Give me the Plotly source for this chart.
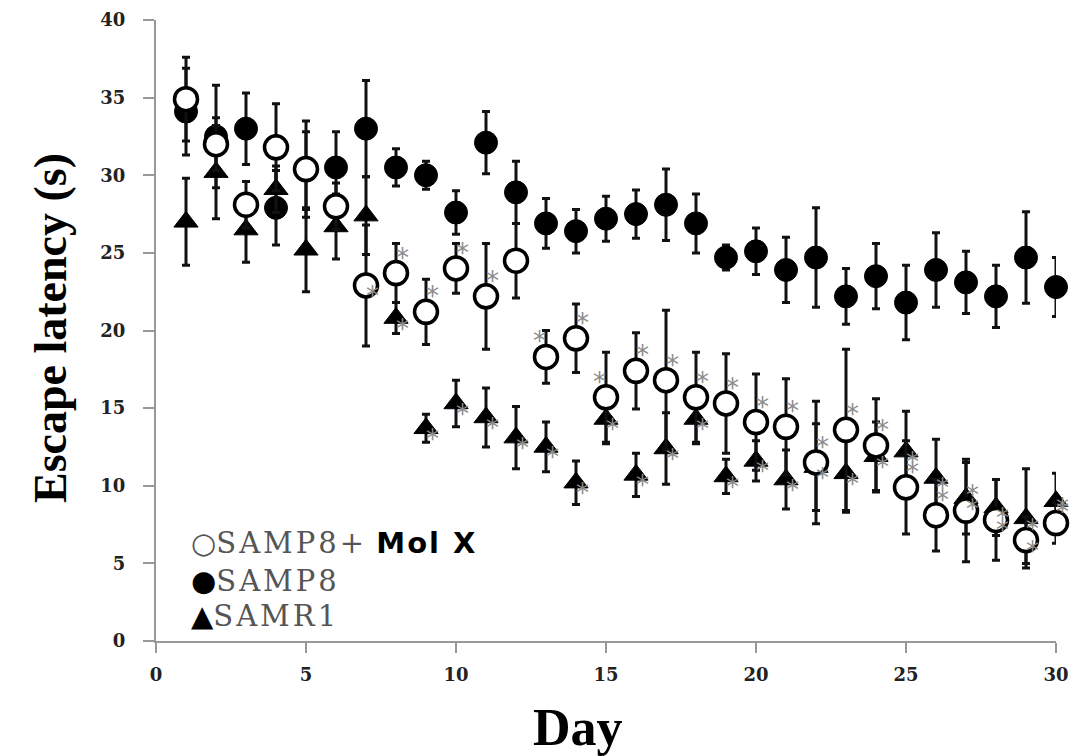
import plotly.graph_objects as go

days = list(range(1, 31))

samp8 = [34.1, 32.5, 33.0, 27.9, 30.3, 30.5, 33.0, 30.5, 30.0, 27.6,
         32.1, 28.9, 26.9, 26.4, 27.2, 27.5, 28.1, 26.9, 24.7, 25.1,
         23.9, 24.7, 22.2, 23.5, 21.8, 23.9, 23.1, 22.2, 24.7, 22.8]
samp8_err = [2.8, 3.3, 2.3, 2.4, 2.5, 2.3, 3.1, 1.2, 0.9, 1.4,
             2.0, 2.0, 1.6, 1.4, 1.45, 1.55, 2.3, 1.9, 0.8, 1.5,
             2.1, 3.2, 1.8, 2.1, 2.4, 2.4, 2.0, 2.0, 2.95, 1.9]

samp8_molx = [34.9, 32.0, 28.1, 31.8, 30.4, 28.0, 22.9, 23.7, 21.2, 24.0,
              22.2, 24.5, 18.3, 19.5, 15.7, 17.4, 16.8, 15.7, 15.3, 14.1,
              13.8, 11.5, 13.6, 12.6, 9.9, 8.1, 8.4, 7.8, 6.5, 7.6]
samp8_molx_err = [2.7, 1.7, 1.5, 2.8, 3.1, 1.5, 3.9, 1.9, 2.1, 1.6,
                  3.4, 2.4, 1.7, 2.2, 2.9, 2.45, 4.5, 2.9, 3.2, 3.1,
                  3.1, 3.95, 5.2, 3.0, 3.0, 2.3, 3.3, 2.6, 1.5, 1.3]

samr1 = [27.0, 30.2, 26.5, 29.1, 25.2, 26.7, 27.4, 20.8, 13.7, 15.3,
         14.4, 13.1, 12.5, 10.2, 14.3, 10.7, 12.4, 14.3, 10.6, 11.6,
         10.4, 11.2, 10.8, 11.9, 12.2, 10.5, 9.2, 8.6, 7.9, 9.0]
samr1_err = [2.8, 3.0, 2.1, 1.5, 2.7, 2.1, 2.5, 1.0, 0.9, 1.5,
             1.9, 2.0, 1.6, 1.4, 1.6, 1.4, 2.3, 1.6, 1.1, 1.3,
             1.9, 2.8, 2.5, 2.2, 2.6, 2.5, 2.3, 1.8, 3.2, 1.8]

# significance stars
molx_star = [""] * 6 + ["*"] * 5 + [""] + ["*"] * 18
molx_star_pos = (["top right"] * 6 + ["bottom right"] + ["top right"] * 5
                 + ["top left", "top right", "top left"] + ["top right"] * 12
                 + ["bottom right", "bottom right", "top right"])
samr1_star = [""] * 7 + ["*"] * 23
samr1_star_pos = ["bottom right"] * 30

x_ticks = [0, 5, 10, 15, 20, 25, 30]
y_ticks = [0, 5, 10, 15, 20, 25, 30, 35, 40]

STAR = "#8c8c8c"
fig = go.Figure()

fig.add_trace(go.Scatter(
    x=days, y=samp8, mode="markers", name="SAMP8",
    marker=dict(symbol="circle", size=23, color="black",
                line=dict(color="black", width=1)),
    error_y=dict(type="data", array=samp8_err, color="#111", thickness=3, width=4),
    cliponaxis=False))

fig.add_trace(go.Scatter(
    x=days, y=samr1, mode="markers", name="SAMR1",
    marker=dict(symbol="triangle-up", size=21, color="black",
                line=dict(color="black", width=1)),
    error_y=dict(type="data", array=samr1_err, color="#111", thickness=3, width=4),
    cliponaxis=False))

fig.add_trace(go.Scatter(
    x=days, y=samp8_molx, mode="markers", name="SAMP8+ Mol X",
    marker=dict(symbol="circle", size=23, color="white",
                line=dict(color="black", width=3.5)),
    error_y=dict(type="data", array=samp8_molx_err, color="#111", thickness=3, width=4),
    cliponaxis=False))

fig.add_trace(go.Scatter(
    x=days, y=samp8_molx, mode="text", text=molx_star, textposition=molx_star_pos,
    textfont=dict(family="DejaVu Sans", size=26, color=STAR),
    showlegend=False, cliponaxis=False, hoverinfo="skip"))

fig.add_trace(go.Scatter(
    x=days, y=samr1, mode="text", text=samr1_star, textposition=samr1_star_pos,
    textfont=dict(family="DejaVu Sans", size=26, color=STAR),
    showlegend=False, cliponaxis=False, hoverinfo="skip"))

axis_font = dict(family="DejaVu Serif", size=18, color="#222")

fig.update_layout(
    width=1073, height=756,
    margin=dict(l=156, r=17, t=20, b=115, autoexpand=False),
    paper_bgcolor="white", plot_bgcolor="white",
    showlegend=False,
    xaxis=dict(range=[0, 30], tickvals=x_ticks, ticktext=[f"<b>{t}</b>" for t in x_ticks],
               showgrid=False, zeroline=False, showline=True, linecolor="#999",
               linewidth=2, ticks="outside", tickcolor="#999", ticklen=10, tickwidth=1.5,
               tickfont=axis_font, ticklabelstandoff=6, automargin=False),
    yaxis=dict(range=[0, 40], tickvals=y_ticks, ticktext=[f"<b>{t}</b>" for t in y_ticks],
               showgrid=False, zeroline=False, showline=True, linecolor="#999",
               linewidth=2, ticks="outside", tickcolor="#999", ticklen=11, tickwidth=1.5,
               tickfont=axis_font, ticklabelstandoff=14, automargin=False),
)


def px(xp):
    return (xp - 156) / 900


def py(yp):
    return (641 - yp) / 621


ann = []
ann.append(dict(xref="paper", yref="paper", x=px(578), y=py(727),
                text="<b>Day</b>", showarrow=False, xanchor="center", yanchor="middle",
                font=dict(family="Liberation Serif", size=52, color="black")))
ann.append(dict(xref="paper", yref="paper", x=px(50), y=py(328),
                text="<b>Escape latency (s)</b>", showarrow=False, textangle=-90,
                xanchor="center", yanchor="middle",
                font=dict(family="Liberation Serif", size=46, color="black")))

leg_font = dict(family="DejaVu Serif", size=29, color="#555")
ann.append(dict(xref="paper", yref="paper", x=px(189), y=py(543),
                text="○<span style=\"letter-spacing:3px\">SAMP8+</span> "
                     "<span style=\"font-family:DejaVu Sans;color:black;letter-spacing:2px\"><b>Mol X</b></span>",
                showarrow=False, xanchor="left", yanchor="middle", font=leg_font))
ann.append(dict(xref="paper", yref="paper", x=px(189), y=py(581),
                text="<span style=\"color:black\">●</span><span style=\"letter-spacing:3px\">SAMP8</span>",
                showarrow=False, xanchor="left", yanchor="middle", font=leg_font))
ann.append(dict(xref="paper", yref="paper", x=px(189), y=py(616),
                text="<span style=\"color:black\">▲</span><span style=\"letter-spacing:3px\">SAMR1</span>",
                showarrow=False, xanchor="left", yanchor="middle", font=leg_font))
fig.update_layout(annotations=ann)

fig.write_html("out.html", config={"displayModeBar": False},
               post_script="document.body.style.margin='0';")
